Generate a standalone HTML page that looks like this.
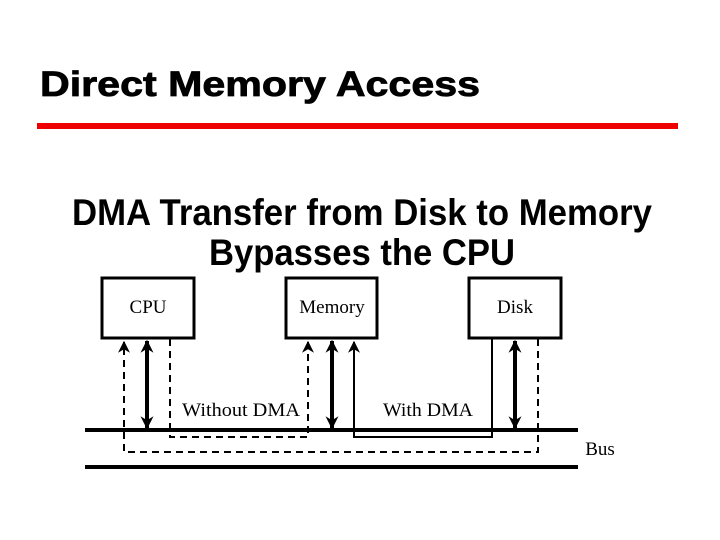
<!DOCTYPE html>
<html><head><style>html,body{margin:0;padding:0;background:#fff}svg{display:block}</style></head>
<body>
<svg width="720" height="540" viewBox="0 0 720 540" xmlns="http://www.w3.org/2000/svg">
<defs>
<marker id="a" viewBox="0 0 10 10" refX="9" refY="5" markerWidth="14" markerHeight="12" orient="auto-start-reverse" markerUnits="userSpaceOnUse"><path d="M0,0 L10,5 L0,10 L3,5 z" fill="#000"/></marker>
<marker id="b" viewBox="0 0 10 10" refX="9" refY="5" markerWidth="18" markerHeight="13" orient="auto-start-reverse" markerUnits="userSpaceOnUse"><path d="M0,0 L10,5 L0,10 L3,5 z" fill="#000"/></marker>
</defs>
<text x="40" y="96" font-family="Liberation Sans, sans-serif" font-weight="bold" font-size="35" stroke="#000" stroke-width="0.8" textLength="440" lengthAdjust="spacingAndGlyphs">Direct Memory Access</text>
<rect x="37" y="123" width="641" height="6" fill="#ee0000"/>
<text x="362" y="225" text-anchor="middle" font-family="Liberation Sans, sans-serif" font-weight="bold" font-size="37" textLength="580" lengthAdjust="spacingAndGlyphs">DMA Transfer from Disk to Memory</text>
<text x="362" y="265" text-anchor="middle" font-family="Liberation Sans, sans-serif" font-weight="bold" font-size="37" textLength="306" lengthAdjust="spacingAndGlyphs">Bypasses the CPU</text>
<g fill="none" stroke="#000" stroke-width="3">
<rect x="102" y="278" width="92" height="60"/>
<rect x="286" y="278" width="91" height="60"/>
<rect x="469" y="278" width="92" height="60"/>
</g>
<g font-family="Liberation Serif, serif" font-size="19" text-anchor="middle">
<text x="148" y="313">CPU</text>
<text x="332" y="313">Memory</text>
<text x="515" y="313">Disk</text>
<text x="241" y="416" font-size="19" textLength="118" lengthAdjust="spacingAndGlyphs">Without DMA</text>
<text x="428" y="416" font-size="19" textLength="90" lengthAdjust="spacingAndGlyphs">With DMA</text>
<text x="600" y="455" font-size="19">Bus</text>
</g>
<line x1="85" y1="430" x2="578" y2="430" stroke="#000" stroke-width="4"/>
<line x1="85" y1="467" x2="578" y2="467" stroke="#000" stroke-width="4"/>
<g stroke="#000" stroke-width="4" marker-start="url(#b)" marker-end="url(#b)">
<line x1="147" y1="341" x2="147" y2="428"/>
<line x1="332" y1="341" x2="332" y2="428"/>
<line x1="515" y1="341" x2="515" y2="428"/>
</g>
<g fill="none" stroke="#000" stroke-width="2" stroke-dasharray="7,5">
<polyline points="538,339 538,452 124,452 124,342" marker-end="url(#a)"/>
<polyline points="170,339 170,437 308,437 308,342" marker-end="url(#a)"/>
</g>
<polyline points="492,339 492,437 354,437 354,342" fill="none" stroke="#000" stroke-width="2" marker-end="url(#a)"/>
</svg>
</body></html>
